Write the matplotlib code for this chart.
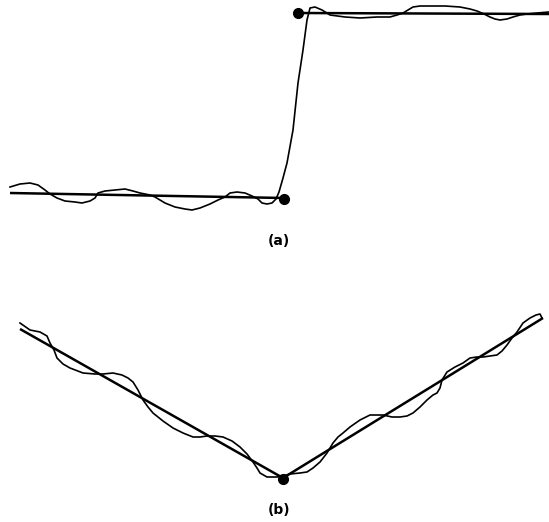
import matplotlib
matplotlib.use("Agg")
import matplotlib.pyplot as plt

# ---- Panel (a): step fit (pixel-space readings from the figure) ----
a_fit_low_x = [10, 284]
a_fit_low_y = [193, 198]
a_fit_high_x = [298, 549]
a_fit_high_y = [13, 14]
a_knots_x = [284, 298]
a_knots_y = [199, 13]

a_curve_x = [10, 20, 30, 38, 45, 50, 57, 65, 75, 82, 90, 95, 98, 105, 115, 125,
             133, 140, 150, 155, 165, 175, 185, 192, 200, 210, 218, 225, 230, 237,
             245, 252, 258, 262, 267, 272, 276, 279, 283, 287, 293, 298, 303, 307,
             310, 315, 322, 330, 345, 360, 377, 390, 397, 403, 408, 413, 420, 427,
             445, 460, 470, 477, 484, 490, 495, 500, 507, 513, 520, 527, 537, 549]
a_curve_y = [187, 184, 183, 185, 190, 194, 198, 201, 202, 203, 201, 198, 193, 191, 190, 189,
             191, 193, 195, 197, 203, 207, 209, 210, 208, 204, 200, 197, 193, 192,
             193, 196, 199, 203, 204, 203, 199, 192, 178, 163, 130, 83, 50, 20,
             8, 7, 10, 15, 17, 18, 17, 17, 15, 13, 10, 7, 6, 6,
             6, 7, 9, 11, 14, 17, 19, 20, 19, 17, 15, 14, 13, 12]

# ---- Panel (b): V-shaped fit ----
b_fit_x = [20, 283, 543]
b_fit_y = [329, 478, 318]
b_knot_x = [283]
b_knot_y = [479]

b_curve_x = [20, 30, 40, 47, 50, 54, 57, 63, 70, 83, 95, 103, 113, 122, 128, 133,
             138, 143, 148, 153, 163, 173, 183, 193, 200, 207, 215, 223, 232, 240,
             247, 253, 257, 260, 267, 277, 283, 290, 300, 307, 313, 320, 327, 333,
             338, 343, 350, 360, 370, 383, 392, 400, 407, 413, 420, 427, 433, 437,
             440, 442, 447, 455, 463, 470, 477, 483, 490, 497, 502, 507, 512, 517,
             523, 530, 536, 540, 542]
b_curve_y = [323, 330, 332, 336, 343, 350, 358, 364, 368, 373, 374, 374, 373, 375, 378, 382,
             390, 400, 407, 413, 421, 428, 433, 437, 437, 436, 436, 437, 441, 447,
             454, 462, 468, 473, 477, 477, 476, 474, 473, 472, 468, 462, 453, 443,
             437, 433, 427, 420, 415, 415, 417, 417, 416, 413, 407, 400, 395, 393,
             388, 380, 372, 367, 363, 358, 357, 357, 356, 355, 351, 345, 338, 332,
             323, 318, 315, 314, 318]

labels = ["(a)", "(b)"]
label_x = [279, 279]
label_y = [241, 510]

fig = plt.figure(figsize=(5.49, 5.22), dpi=100)
ax = fig.add_axes([0, 0, 1, 1])
ax.set_xlim(0, 549)
ax.set_ylim(522, 0)
ax.axis("off")

line_kw = dict(color="black", lw=1.8, solid_capstyle="butt")
curve_kw = dict(color="black", lw=1.2)

ax.plot(a_fit_low_x, a_fit_low_y, **line_kw)
ax.plot(a_fit_high_x, a_fit_high_y, **line_kw)
ax.plot(a_curve_x, a_curve_y, **curve_kw)
ax.plot(a_knots_x, a_knots_y, "o", color="black", ms=7)

ax.plot(b_fit_x, b_fit_y, **line_kw)
ax.plot(b_curve_x, b_curve_y, **curve_kw)
ax.plot(b_knot_x, b_knot_y, "o", color="black", ms=7)

for t, x, y in zip(labels, label_x, label_y):
    ax.text(x, y, t, ha="center", va="center", fontsize=10, fontweight="bold",
            family="DejaVu Sans")

fig.savefig("out.png", dpi=100)
